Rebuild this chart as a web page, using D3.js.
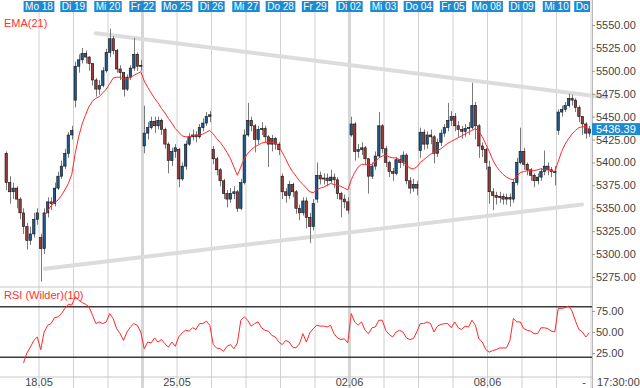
<!DOCTYPE html>
<html><head><meta charset="utf-8">
<script src="https://cdn.jsdelivr.net/npm/d3@7"></script>
<style>body{margin:0;background:#fff}svg{display:block;font-family:"Liberation Sans",Arial,sans-serif}</style>
</head><body><svg id="c" width="640" height="388"></svg>
<script>
// ---------- data ----------
const dayLabels = ["Mo 18","Di 19","Mi 20","Fr 22","Mo 25","Di 26","Mi 27","Do 28","Fr 29","Di 02","Mi 03","Do 04","Fr 05","Mo 08","Di 09","Mi 10","Do"];
const dateTicks = ["18.05","25.05","02.06","08.06"];
const dateTickDays = [1,5,10,14];           // day boundary index of each date label
const gapDays = [4,10];                      // boundaries after a holiday (thick grid)
const candlesPerDay = 10;
const priceTicks = [5275,5300,5325,5350,5375,5400,5425,5450,5475,5500,5525,5550];
const rsiTicks = [25,50,75];
const rsiLevels = [20,80];
const lastPrice = 5436.39;
const timeLabel = "17:30:00";
// [open, high, low, close]
const candles = [
[5410,5412,5370,5378],[5378,5385,5355,5368],[5368,5378,5360,5372],[5372,5374,5350,5360],[5360,5362,5338,5345],
[5345,5350,5322,5330],[5330,5334,5305,5315],[5315,5330,5310,5322],[5322,5345,5318,5338],[5338,5350,5332,5345],
[5318,5322,5270,5306],[5306,5350,5300,5345],[5345,5362,5340,5357],[5357,5362,5348,5355],[5355,5378,5352,5372],
[5372,5390,5370,5385],[5385,5402,5382,5396],[5396,5415,5393,5410],[5410,5433,5405,5430],[5430,5440,5425,5435],
[5468,5510,5460,5505],[5505,5518,5498,5512],[5512,5525,5508,5519],[5519,5522,5508,5515],[5515,5516,5500,5508],
[5508,5508,5484,5490],[5490,5492,5472,5480],[5480,5490,5474,5484],[5484,5504,5482,5500],[5500,5524,5498,5520],
[5520,5546,5515,5535],[5535,5538,5518,5522],[5522,5524,5498,5502],[5502,5506,5490,5498],[5498,5498,5472,5480],
[5480,5496,5478,5493],[5493,5506,5490,5503],[5503,5536,5500,5518],[5518,5520,5500,5505],[5505,5512,5500,5506],
[5418,5462,5410,5432],[5432,5444,5425,5438],[5438,5450,5436,5445],[5445,5450,5432,5440],[5440,5450,5436,5446],
[5446,5448,5430,5436],[5436,5438,5415,5420],[5420,5422,5388,5402],[5402,5416,5396,5412],[5412,5420,5405,5416],
[5414,5416,5373,5382],[5382,5400,5380,5396],[5396,5424,5392,5420],[5420,5432,5418,5428],[5428,5436,5424,5430],
[5430,5434,5422,5428],[5428,5442,5426,5438],[5438,5448,5434,5443],[5443,5455,5440,5450],[5450,5456,5444,5452],
[5414,5418,5398,5404],[5404,5406,5386,5392],[5392,5394,5374,5380],[5380,5382,5360,5366],[5366,5370,5351,5360],
[5360,5372,5356,5366],[5366,5374,5360,5368],[5368,5370,5346,5350],[5350,5382,5348,5378],[5378,5436,5376,5430],
[5430,5465,5428,5446],[5446,5450,5434,5440],[5440,5442,5411,5425],[5425,5440,5420,5436],[5436,5444,5430,5437],
[5437,5440,5422,5428],[5428,5430,5395,5420],[5420,5430,5412,5426],[5426,5428,5414,5420],[5420,5422,5408,5414],
[5385,5388,5360,5368],[5368,5372,5356,5364],[5364,5380,5360,5376],[5376,5378,5362,5368],[5368,5370,5344,5350],
[5350,5354,5337,5345],[5345,5362,5342,5358],[5358,5362,5328,5340],[5340,5345,5312,5330],[5330,5360,5326,5355],
[5360,5400,5356,5386],[5386,5390,5376,5382],[5382,5388,5376,5383],[5383,5388,5374,5380],[5380,5392,5377,5384],
[5384,5388,5372,5381],[5381,5384,5360,5366],[5366,5368,5340,5360],[5360,5365,5350,5357],[5357,5362,5344,5348],
[5430,5450,5428,5442],[5442,5444,5402,5412],[5412,5420,5405,5414],[5414,5422,5408,5416],[5416,5418,5398,5404],
[5404,5405,5366,5385],[5385,5400,5382,5396],[5396,5412,5392,5407],[5407,5455,5405,5440],[5440,5442,5410,5415],
[5415,5418,5395,5400],[5400,5402,5384,5390],[5390,5394,5380,5388],[5388,5406,5386,5403],[5403,5408,5394,5400],
[5400,5412,5396,5408],[5408,5410,5376,5380],[5380,5384,5366,5372],[5372,5382,5368,5376],[5376,5380,5364,5372],
[5413,5438,5405,5433],[5433,5436,5414,5420],[5420,5434,5415,5430],[5430,5436,5420,5428],[5428,5430,5399,5410],
[5410,5426,5406,5422],[5422,5436,5418,5432],[5432,5442,5428,5438],[5438,5465,5434,5446],[5446,5456,5440,5450],
[5450,5454,5434,5440],[5440,5445,5428,5436],[5436,5440,5426,5434],[5434,5442,5428,5437],[5437,5444,5430,5438],
[5438,5487,5436,5462],[5462,5466,5425,5440],[5440,5442,5405,5418],[5418,5422,5406,5414],[5414,5416,5392,5400],
[5395,5402,5355,5368],[5368,5372,5348,5364],[5364,5368,5354,5362],[5362,5368,5356,5363],[5363,5366,5354,5360],
[5360,5366,5354,5362],[5362,5366,5352,5360],[5360,5382,5356,5378],[5378,5405,5375,5400],[5400,5438,5398,5412],
[5412,5416,5392,5398],[5398,5400,5386,5392],[5392,5394,5380,5386],[5386,5388,5373,5380],[5380,5388,5376,5384],
[5384,5394,5380,5390],[5390,5413,5386,5396],[5396,5400,5386,5392],[5392,5395,5384,5390],[5390,5396,5375,5390],
[5435,5458,5430,5455],[5455,5462,5450,5458],[5458,5466,5455,5462],[5462,5475,5460,5470],[5470,5474,5462,5468],
[5468,5470,5455,5460],[5460,5462,5444,5450],[5450,5450,5430,5442],[5442,5444,5426,5432],[5432,5440,5428,5436.39]
];
const ema21 = [null,null,null,null,null,null,null,null,null,null,null,
5341,5347,5353,5356,5359,5364,5370,5377,5387,
5410,5428,5442,5452,5461,5467,5470,5472,5476,5480,
5486,5492,5493,5493,5491,5491,5493,5495,5497,5499,
5489,5482,5476,5470,5465,5459,5454,5448,5443,5437,
5433,5429,5428,5428,5429,5430,5430,5431,5433,5435,
5431,5426,5422,5417,5411,5404,5395,5386,5395,5404,
5410,5414,5417,5419,5421,5422,5422,5422,5421,5418,
5411,5404,5396,5390,5385,5380,5376,5372,5368,5367,
5370,5372,5373,5375,5377,5376,5375,5374,5372,5370,
5381,5389,5395,5398,5398,5397,5398,5401,5405,5407,
5408,5406,5405,5405,5403,5400,5397,5394,5393,5395,
5400,5403,5406,5409,5411,5413,5415,5418,5421,5423,
5425,5427,5429,5431,5433,5435,5437,5434,5428,5420,
5412,5403,5396,5391,5387,5384,5382,5381,5385,5389,
5390,5391,5391,5391,5392,5393,5392,5392,5391,5390,
5401,5412,5420,5426,5431,5435,5438,5439,5439,5436];
const rsi10 = [null,null,null,null,null,
13,25,32,40,44,
29,50,58,60,67,68,72,78,83,82,
92,88,85,83,80,70,60,62,60,62,
72,66,54,48,40,50,56,60,58,50,
30,38,37,43,38,41,36,32,38,33,
44,49,52,51,55,53,60,60,63,58,
35,31,30,27,33,35,30,37,64,68,
64,57,60,62,55,52,51,46,44,38,
35,40,38,32,31,36,48,38,49,54,
58,57,57,56,58,48,43,41,42,37,
72,62,58,62,52,48,55,56,64,64,
52,47,44,50,52,50,43,41,42,50,
60,60,62,60,50,57,59,60,60,55,
62,55,53,57,56,64,58,42,38,29,
26,28,29,31,31,31,40,66,62,62,
54,52,51,48,48,55,55,54,51,50,
78,78,79,81,75,63,53,50,44,49];
// trend lines: [candle index, price]
const trendUpper = [[26,5541],[174,5471]];
const trendLower = [[11.2,5284],[166.9,5354]];

// ---------- drawing ----------
const svg = d3.select("#c");
const W = 640, H = 388, plotR = 591, axisX = 592;
const nDays = dayLabels.length;
const x = d3.scaleLinear().domain([-0.5, candles.length - 0.5]).range([4.5, plotR]);
const yP = d3.scaleLinear().domain([5275, 5550]).range([277, 25]);
const yR = d3.scaleLinear().domain([0, 100]).range([374, 290]);
const blue = "#1d8ad2";

// day grid lines
const bounds = d3.range(1, nDays + 1);
svg.append("g").selectAll("line").data(bounds).join("line")
  .attr("x1", k => x(k * candlesPerDay - 0.5)).attr("x2", k => x(k * candlesPerDay - 0.5))
  .attr("y1", 0).attr("y2", H)
  .attr("stroke", k => gapDays.includes(k) ? "#d6d6d6" : "#d0d0d0")
  .attr("stroke-width", k => gapDays.includes(k) ? 3 : 1);

// panel separators
[287, 377].forEach(yy => svg.append("line").attr("x1", 0).attr("x2", axisX).attr("y1", yy).attr("y2", yy)
  .attr("stroke", "#c8c8c8").attr("stroke-width", 1));

// trend lines
const tl = d3.line().x(d => x(d[0])).y(d => yP(d[1]));
[trendUpper, trendLower].forEach(t => svg.append("path").attr("d", tl(t))
  .attr("stroke", "#dcdcdc").attr("stroke-width", 4).attr("fill", "none").attr("stroke-linecap", "round"));

// candles
const cw = 2.4;
const cg = svg.append("g");
cg.selectAll("line").data(candles).join("line")
  .attr("x1", (d, i) => Math.round(x(i)) + 0.5).attr("x2", (d, i) => Math.round(x(i)) + 0.5)
  .attr("y1", d => yP(d[1])).attr("y2", d => yP(d[2]))
  .attr("stroke", "#7a7a7a").attr("stroke-width", 1);
cg.selectAll("rect").data(candles).join("rect")
  .attr("x", (d, i) => x(i) - cw / 2).attr("width", cw)
  .attr("y", d => yP(Math.max(d[0], d[3])))
  .attr("height", d => Math.max(1, Math.abs(yP(d[0]) - yP(d[3]))))
  .attr("fill", d => d[3] >= d[0] ? "#1d5a8e" : "#9a3b3b")
  .attr("stroke", "#111").attr("stroke-width", 0.6);

// EMA
const ln = y => d3.line().defined(d => d != null).x((d, i) => x(i)).y(d => y(d));
svg.append("path").attr("d", ln(yP)(ema21)).attr("fill", "none").attr("stroke", "#ff2a2a").attr("stroke-width", 1);

// RSI levels and line
svg.append("g").selectAll("line").data(rsiLevels).join("line")
  .attr("x1", 0).attr("x2", axisX).attr("y1", d => yR(d)).attr("y2", d => yR(d))
  .attr("stroke", "#3a3a3a").attr("stroke-width", 1.5);
svg.append("path").attr("d", ln(yR)(rsi10)).attr("fill", "none").attr("stroke", "#ff2a2a").attr("stroke-width", 1);

// axis line right
svg.append("line").attr("x1", axisX + 0.5).attr("x2", axisX + 0.5).attr("y1", 0).attr("y2", H)
  .attr("stroke", "#b8b8b8");

// right axes
const styleAxis = g => {
  g.select(".domain").remove();
  g.selectAll(".tick line").attr("stroke", "#999");
  g.selectAll(".tick text").attr("fill", "#444").attr("font-size", 11).attr("font-family", "Liberation Sans, Arial, sans-serif");
};
svg.append("g").attr("transform", `translate(${axisX},0)`)
  .call(d3.axisRight(yP).tickValues(priceTicks).tickFormat(d3.format(".2f")).tickSize(3).tickPadding(1))
  .call(styleAxis);
svg.append("g").attr("transform", `translate(${axisX},0)`)
  .call(d3.axisRight(yR).tickValues(rsiTicks).tickFormat(d3.format(".2f")).tickSize(3).tickPadding(1))
  .call(styleAxis);

// last price box
const lp = svg.append("g").attr("transform", `translate(${axisX},${yP(lastPrice)})`);
lp.append("rect").attr("x", 0).attr("y", -6).attr("width", W - axisX).attr("height", 12).attr("fill", blue);
lp.append("text").attr("x", 4).attr("y", 4).attr("fill", "#fff").attr("font-size", 11).text(d3.format(".2f")(lastPrice));

// top day labels
const tg = svg.append("g");
dayLabels.forEach((lab, j) => {
  const cx = x((j + 1) * candlesPerDay - 0.5);
  const t = tg.append("text").attr("y", 10).attr("font-size", 10).attr("fill", "#fff").text(lab);
  const w = t.node().getComputedTextLength() + 3;
  let left = cx - w / 2;
  if (left + w > plotR - 1) left = plotR - 1 - w;
  tg.insert("rect", "text").attr("x", left).attr("y", 1).attr("width", w).attr("height", 11).attr("fill", blue);
  t.attr("x", left + 1.5);
});
tg.selectAll("rect").lower();
tg.selectAll("text").raise();

// indicator labels
svg.append("text").attr("x", 4).attr("y", 27).attr("font-size", 11).attr("fill", "#ff3030").text("EMA(21)");
svg.append("text").attr("x", 4).attr("y", 299).attr("font-size", 11).attr("fill", "#ff3030").text("RSI (Wilder)(10)");

// bottom date labels
svg.append("g").selectAll("text").data(dateTicks).join("text")
  .attr("x", (d, i) => x(dateTickDays[i] * candlesPerDay - 0.5)).attr("y", 386)
  .attr("text-anchor", "middle").attr("font-size", 11).attr("fill", "#444").text(d => d);
svg.append("rect").attr("x", axisX + 1).attr("y", 378).attr("width", W - axisX).attr("height", 10).attr("fill", "#fff");
svg.append("text").attr("x", 584).attr("y", 386).attr("text-anchor", "middle").attr("font-size", 11).attr("fill", "#444").text("-");
svg.append("text").attr("x", 597).attr("y", 386).attr("font-size", 11).attr("fill", "#444").text(timeLabel);
</script></body></html>
